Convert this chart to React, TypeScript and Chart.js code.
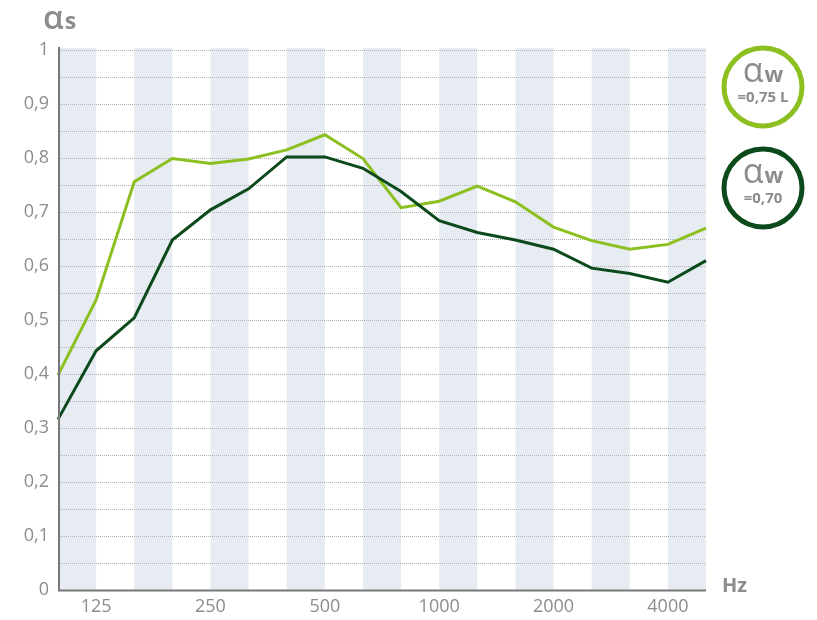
import React, { useEffect, useRef } from "react";
import { Chart, registerables } from "chart.js";

Chart.register(...registerables);

const frequencies = ["100", "125", "160", "200", "250", "315", "400", "500", "630", "800", "1000", "1250", "1600", "2000", "2500", "3150", "4000", "5000"];
const shownTicks = ["125", "250", "500", "1000", "2000", "4000"];
const lightSeries = [0.398, 0.537, 0.756, 0.799, 0.79, 0.798, 0.815, 0.843, 0.799, 0.708, 0.72, 0.748, 0.719, 0.672, 0.647, 0.631, 0.64, 0.67];
const darkSeries = [0.316, 0.443, 0.504, 0.648, 0.704, 0.743, 0.802, 0.802, 0.781, 0.738, 0.684, 0.662, 0.648, 0.631, 0.596, 0.586, 0.57, 0.61];
const gridSteps = [0.05, 0.1, 0.15, 0.2, 0.25, 0.3, 0.35, 0.4, 0.45, 0.5, 0.55, 0.6, 0.65, 0.7, 0.75, 0.8, 0.85, 0.9, 0.95, 1];
const badges = [
  { title: "α", sub: "w", value: "=0,75 L", color: "#8cc021" },
  { title: "α", sub: "w", value: "=0,70", color: "#0b4a1b" },
];

const FONT = "'Open Sans', 'Noto Sans', sans-serif";
const GRAY = "#8c8c8c";
const BAND = "#e7ebf2";
const AXIS = "#787878";

const decorPlugin = {
  id: "decor",
  beforeDraw(chart: any) {
    const { ctx, chartArea, scales } = chart;
    const x = scales.x;
    const y = scales.y;
    ctx.save();
    ctx.fillStyle = BAND;
    for (let i = 0; i < frequencies.length - 1; i += 2) {
      const x0 = x.getPixelForValue(i);
      const x1 = x.getPixelForValue(i + 1);
      ctx.fillRect(x0, chartArea.top - 2, x1 - x0, chartArea.bottom - chartArea.top + 2);
    }
    ctx.strokeStyle = "#b0b0b0";
    ctx.lineWidth = 1;
    ctx.setLineDash([1, 1]);
    gridSteps.forEach((v) => {
      const py = Math.round(y.getPixelForValue(v)) + 0.5;
      ctx.beginPath();
      ctx.moveTo(chartArea.left + 2, py);
      ctx.lineTo(chartArea.right, py);
      ctx.stroke();
    });
    ctx.restore();
  },
  afterDraw(chart: any) {
    const { ctx, chartArea } = chart;
    ctx.save();
    ctx.strokeStyle = AXIS;
    ctx.lineWidth = 2;
    ctx.beginPath();
    ctx.moveTo(chartArea.left + 1, chartArea.top - 3);
    ctx.lineTo(chartArea.left + 1, chartArea.bottom);
    ctx.moveTo(chartArea.left, chartArea.bottom + 0.5);
    ctx.lineTo(chartArea.right, chartArea.bottom + 0.5);
    ctx.stroke();

    ctx.fillStyle = GRAY;
    ctx.textBaseline = "alphabetic";
    ctx.textAlign = "left";
    ctx.font = `600 33px ${FONT}`;
    ctx.fillText("α", 43, 29);
    const aw = ctx.measureText("α").width;
    ctx.font = `700 23px ${FONT}`;
    ctx.fillText("s", 43 + aw + 1, 29);

    ctx.font = `700 20px ${FONT}`;
    ctx.textBaseline = "middle";
    ctx.fillText("Hz", chartArea.right + 16, 586);

    const centers = [87, 188];
    badges.forEach((b, i) => {
      const cx = 763;
      const cy = centers[i];
      ctx.beginPath();
      ctx.arc(cx, cy, 39, 0, Math.PI * 2);
      ctx.lineWidth = 5;
      ctx.strokeStyle = b.color;
      ctx.stroke();
      ctx.fillStyle = GRAY;
      ctx.textAlign = "left";
      ctx.textBaseline = "alphabetic";
      ctx.font = `400 34px ${FONT}`;
      const w1 = ctx.measureText(b.title).width;
      ctx.font = `700 22px ${FONT}`;
      const w2 = ctx.measureText(b.sub).width;
      const start = cx - (w1 + w2 + 1) / 2;
      ctx.font = `400 34px ${FONT}`;
      ctx.fillText(b.title, start, cy - 5);
      ctx.font = `700 22px ${FONT}`;
      ctx.fillText(b.sub, start + w1 + 1, cy - 5);
      ctx.font = `700 15px ${FONT}`;
      ctx.textAlign = "center";
      ctx.textBaseline = "middle";
      ctx.fillText(b.value, cx, cy + 11);
    });
    ctx.restore();
  },
};

export default function App() {
  const ref = useRef<HTMLCanvasElement>(null);
  useEffect(() => {
    document.body.style.margin = "0";
    const chart = new Chart(ref.current as HTMLCanvasElement, {
      type: "line",
      data: {
        labels: frequencies,
        datasets: [
          { data: darkSeries, borderColor: "#0b4a1b", borderWidth: 3, pointRadius: 0, tension: 0 },
          { data: lightSeries, borderColor: "#8cc021", borderWidth: 3, pointRadius: 0, tension: 0 },
        ],
      },
      options: {
        responsive: false,
        animation: false,
        layout: { padding: { top: 50, right: 111, left: 0, bottom: 0 } },
        plugins: { legend: { display: false }, tooltip: { enabled: false } },
        scales: {
          x: {
            type: "category",
            offset: false,
            grid: { display: false, drawTicks: false },
            border: { display: false },
            ticks: {
              autoSkip: false,
              maxRotation: 0,
              padding: 6,
              color: GRAY,
              font: { family: FONT, size: 18 },
              callback: (v: any, i: number) => (shownTicks.includes(frequencies[i]) ? frequencies[i] : ""),
            },
            afterFit: (s: any) => { s.height = 30; },
          },
          y: {
            min: 0,
            max: 1,
            grid: { display: false, drawTicks: false },
            border: { display: false },
            ticks: {
              stepSize: 0.1,
              padding: 9,
              color: GRAY,
              font: { family: FONT, size: 18 },
              callback: (v: any) => {
                const n = Math.round(Number(v) * 10);
                if (n === 0) return "0";
                if (n === 10) return "1";
                return "0," + n;
              },
            },
            afterFit: (s: any) => { s.width = 58; },
          },
        },
      },
      plugins: [decorPlugin],
    });
    return () => chart.destroy();
  }, []);
  return (
    <div style={{ width: 817, height: 620 }}>
      <canvas ref={ref} width={817} height={620} style={{ display: "block" }} />
    </div>
  );
}
